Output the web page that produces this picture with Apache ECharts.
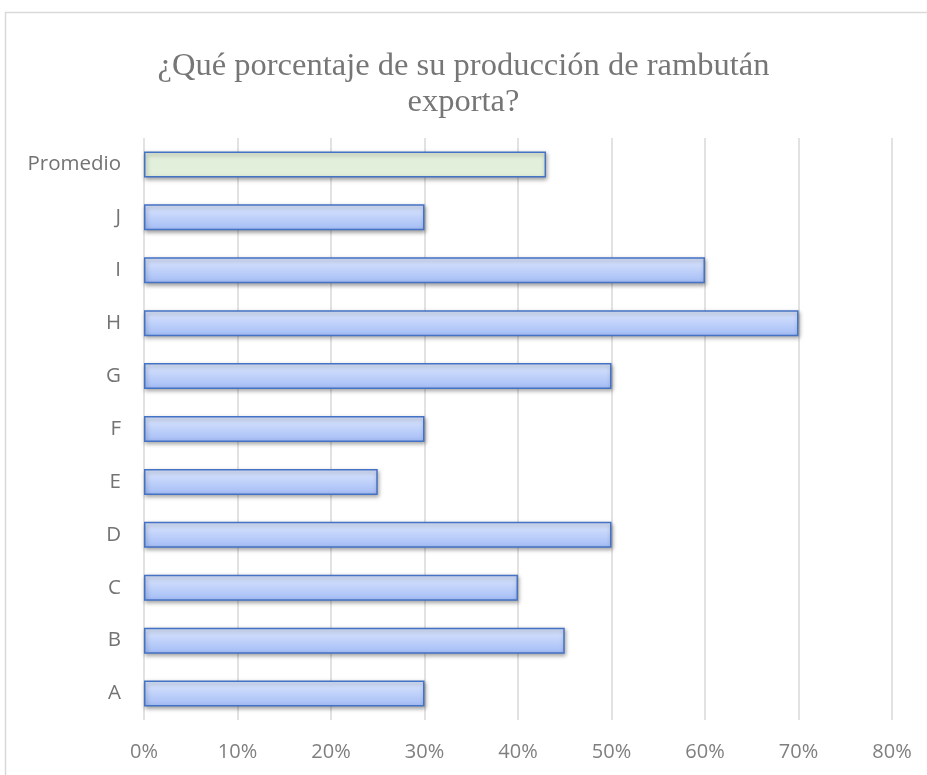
<!DOCTYPE html>
<html><head><meta charset="utf-8">
<script src="https://cdn.jsdelivr.net/npm/echarts@6/dist/echarts.min.js"></script>
<style>html,body{margin:0;padding:0;background:#fff}#c{width:927px;height:775px}</style>
</head><body><div id="c"></div>
<script>
const categories = ['A','B','C','D','E','F','G','H','I','J','Promedio'];
const values = [30,45,40,50,25,30,50,70,60,30,43];
const titleText = '¿Qué porcentaje de su producción de rambután\nexporta?';
const xTicks = [0,10,20,30,40,50,60,70,80];

const blueGrad = new echarts.graphic.LinearGradient(0,0,0,1,[
  {offset:0,color:'#dde7fe'},{offset:1,color:'#a3bcf6'}]);
const data = values.map((v,i)=>({
  value:v,
  itemStyle: categories[i]==='Promedio'
    ? {color:'#e2efda',borderColor:'#4472c4',borderWidth:1.5}
    : {color:blueGrad,borderColor:'#4472c4',borderWidth:1.5}
}));

const chart = echarts.init(document.getElementById('c'));
chart.setOption({
  animation:false,
  backgroundColor:'#fff',
  graphic:[{type:'rect',shape:{x:5.5,y:12.5,width:1000,height:1000},style:{fill:'none',stroke:'#d9d9d9',lineWidth:1.5},z:-1}],
  title:{text:titleText,left:'center',top:43,
    textStyle:{fontFamily:'Liberation Serif',fontSize:32.5,fontWeight:'normal',color:'#767676',lineHeight:36}},
  grid:{left:144,right:35,top:138,bottom:55},
  xAxis:{type:'value',min:0,max:80,interval:10,
    axisLine:{show:false},axisTick:{show:false},
    splitLine:{lineStyle:{color:'#d9d9d9',width:1.5}},
    axisLabel:{formatter:v=>v+'%',margin:22,fontFamily:'Open Sans',fontSize:20,color:'#7f7f7f'}},
  yAxis:{type:'category',data:categories,
    axisLine:{show:false},axisTick:{show:false},
    axisLabel:{margin:23,padding:[4,0,0,0],fontFamily:'Open Sans',fontSize:20.5,color:'#737373'}},
  series:[{type:'bar',data:data,barWidth:26,
    itemStyle:{shadowColor:'rgba(0,0,0,0.35)',shadowBlur:4,shadowOffsetY:2,shadowOffsetX:1}}]
});
</script></body></html>
